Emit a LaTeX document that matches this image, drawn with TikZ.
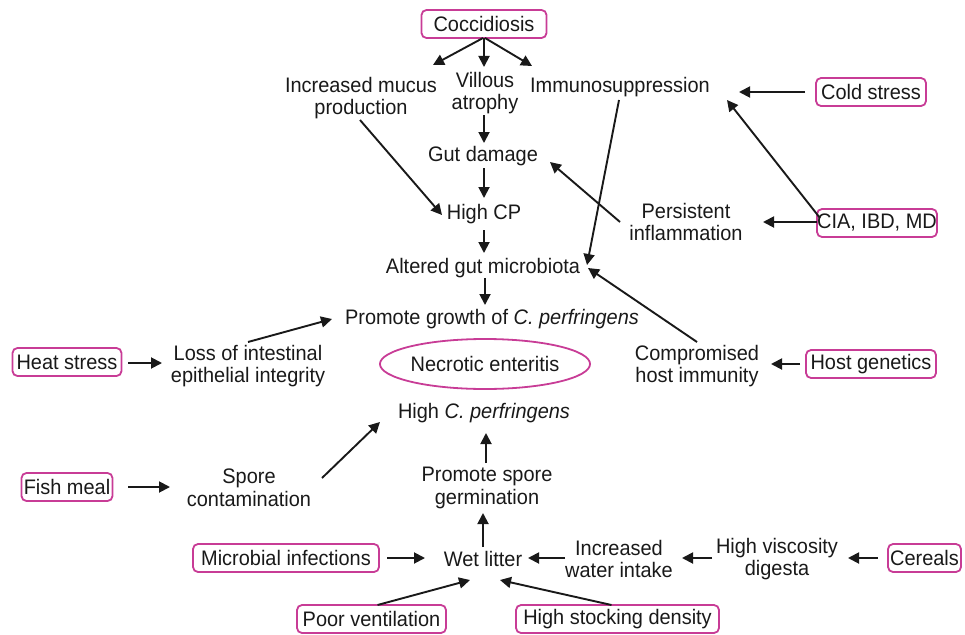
\documentclass[tikz,border=0pt]{standalone}
\usepackage{fontspec}
\setmainfont[FakeStretch=0.95]{Liberation Sans}
\usetikzlibrary{shapes.geometric,arrows.meta,calc}
\definecolor{mag}{RGB}{200,60,150}
\definecolor{ink}{RGB}{25,25,25}
\begin{document}
\begin{tikzpicture}[x=1pt,y=-1pt,
  every node/.style={font=\fontsize{21}{22.5}\selectfont, text=ink},
  txt/.style={align=center,inner sep=0pt},
  pbox/.style={draw=mag,line width=1.8pt,rounded corners=5pt,inner sep=0pt,minimum height=28pt},
  arr/.style={draw=ink,line width=1.9pt,-{Triangle[length=11pt,width=11pt]}}]
\useasboundingbox (0,0) rectangle (965,634);
% boxes
\node[pbox,minimum width=125pt] (cocc) at (484,24) {Coccidiosis};
\node[pbox,minimum width=110pt] (cold) at (871,92) {Cold stress};
\node[pbox,minimum width=120pt] (cia) at (877,223) {CIA, IBD, MD};
\node[pbox,minimum width=109pt] (heat) at (67,362) {Heat stress};
\node[pbox,minimum width=130pt] (host) at (871,364) {Host genetics};
\node[pbox,minimum width=91pt] (fish) at (67,487) {Fish meal};
\node[pbox,minimum width=186pt] (micro) at (286,558) {Microbial infections};
\node[pbox,minimum width=73pt] (cer) at (924.5,558) {Cereals};
\node[pbox,minimum width=149pt] (poor) at (371.5,619) {Poor ventilation};
\node[pbox,minimum width=203pt] (stock) at (617.5,619) {High stocking density};
\node[draw=mag,line width=1.8pt,ellipse,inner sep=0pt,minimum width=175pt,minimum height=50pt] (ne) at (485,364) {Necrotic enteritis};
% text nodes
\node[txt] (mucus) at (361,98) {Increased mucus\\production};
\node[txt] (vill) at (485,93) {Villous\\atrophy};
\node[txt] (immu) at (620,87) {Immunosuppression};
\node[txt] (gut) at (483,156) {Gut damage};
\node[txt] (hcp) at (484,214) {High CP};
\node[txt] (pers) at (686,222) {Persistent\\inflammation};
\node[txt] (alt) at (483,268) {Altered gut microbiota};
\node[txt] (prom) at (492,319) {Promote growth of \textit{C. perfringens}};
\node[txt] (loss) at (248,366) {Loss of intestinal\\epithelial integrity};
\node[txt] (comp) at (697,366) {Compromised\\host immunity};
\node[txt] (hcpf) at (484,413) {High \textit{C. perfringens}};
\node[txt] (spore) at (249,488) {Spore\\contamination};
\node[txt] (germ) at (487,488) {Promote spore\\germination};
\node[txt] (wet) at (483,559) {Wet litter};
\node[txt] (water) at (619,559) {Increased\\water intake};
\node[txt] (visc) at (777,559) {High viscosity\\digesta};
% arrows
\draw[arr] ($(cocc)+(-1,14)$) -- ($(mucus)+(72,-33)$);
\draw[arr] ($(cocc)+(0,14)$) -- ($(vill)+(-1,-26)$);
\draw[arr] ($(cocc)+(1,14)$) -- ($(immu)+(-88,-21)$);
\draw[arr] ($(vill)+(-1,22)$) -- ($(gut)+(1,-13)$);
\draw[arr] ($(mucus)+(-1,22)$) -- ($(hcp)+(-42,1)$);
\draw[arr] ($(gut)+(1,12)$) -- ($(hcp)+(0,-16)$);
\draw[arr] ($(immu)+(-1,13)$) -- ($(alt)+(104,-3)$);
\draw[arr] ($(pers)+(-66,0)$) -- ($(gut)+(67,6)$);
\draw[arr] ($(cia)+(-60,-1)$) -- ($(pers)+(77,0)$);
\draw[arr] ($(cia)+(-57,-5)$) -- ($(immu)+(107,13)$);
\draw[arr] ($(cold)+(-66,0)$) -- ($(immu)+(119,5)$);
\draw[arr] ($(hcp)+(0,16)$) -- ($(alt)+(1,-15)$);
\draw[arr] ($(alt)+(2,10)$) -- ($(prom)+(-7,-14)$);
\draw[arr] ($(comp)+(0,-24)$) -- ($(alt)+(105,0)$);
\draw[arr] ($(loss)+(0,-24)$) -- ($(prom)+(-160,0)$);
\draw[arr] ($(heat)+(61,1)$) -- ($(loss)+(-86,-3)$);
\draw[arr] ($(host)+(-71,0)$) -- ($(comp)+(74,-2)$);
\draw[arr] ($(spore)+(73,-10)$) -- ($(hcpf)+(-104,9)$);
\draw[arr] ($(germ)+(-1,-25)$) -- ($(hcpf)+(2,20)$);
\draw[arr] ($(fish)+(61,0)$) -- ($(spore)+(-79,-1)$);
\draw[arr] ($(wet)+(0,-12)$) -- ($(germ)+(-4,25)$);
\draw[arr] ($(micro)+(101,0)$) -- ($(wet)+(-58,-1)$);
\draw[arr] ($(water)+(-54,-1)$) -- ($(wet)+(45,-1)$);
\draw[arr] ($(visc)+(-65,-1)$) -- ($(water)+(63,-1)$);
\draw[arr] ($(cer)+(-47,0)$) -- ($(visc)+(71,-1)$);
\draw[arr] ($(poor)+(6,-14)$) -- ($(wet)+(-13,21)$);
\draw[arr] ($(stock)+(-6,-14)$) -- ($(wet)+(17,21)$);
\end{tikzpicture}
\end{document}
